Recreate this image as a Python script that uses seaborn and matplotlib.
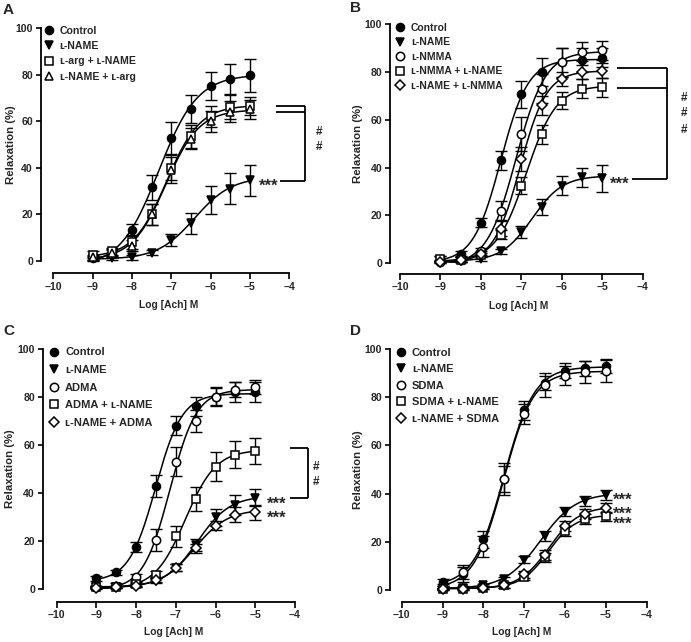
import numpy as np
import pandas as pd
import matplotlib
matplotlib.use("Agg")
import matplotlib.pyplot as plt
import seaborn as sns
from matplotlib.lines import Line2D

# ---------------- data ----------------
log_ach = [-9, -8.5, -8, -7.5, -7, -6.5, -6, -5.5, -5]

# Panel A
a_labels = ["Control", "ʟ-NAME", "ʟ-arg + ʟ-NAME", "ʟ-NAME + ʟ-arg"]
a_control = [1, 3, 13.3, 31.5, 52.7, 65, 75, 78, 79.6]
a_control_err = [1, 1.5, 2.5, 5.5, 7, 6, 6, 6.5, 7]
a_lname = [1, 1, 1.5, 3.5, 9, 16, 26, 31, 34.5]
a_lname_err = [0.5, 0.5, 1, 1, 2.5, 4.5, 6, 6.5, 6.5]
a_larg_lname = [2.5, 4, 8, 20, 40, 53.5, 62, 66, 66.5]
a_larg_lname_err = [1.5, 1.5, 3, 4.5, 5.5, 5, 4.5, 5, 4]
a_lname_larg = [1.5, 3.5, 6.5, 20, 39, 52.5, 60, 64, 65]
a_lname_larg_err = [1, 1.5, 2.5, 4.5, 5.5, 4.5, 4.5, 4.5, 4]

# Panel B
b_labels = ["Control", "ʟ-NAME", "ʟ-NMMA", "ʟ-NMMA + ʟ-NAME", "ʟ-NAME + ʟ-NMMA"]
b_control = [2, 4, 17, 43, 70.6, 80, 84, 85, 86]
b_control_err = [1, 1, 2, 4, 5.5, 6, 6, 5, 4]
b_lname = [1, 1, 2, 5, 13, 23.5, 32.5, 36, 35.5]
b_lname_err = [0.5, 0.5, 1, 1, 2.5, 3.5, 4, 4, 5.5]
b_lnmma = [0.5, 1.5, 5, 22, 54, 73, 84, 88.5, 89]
b_lnmma_err = [0.5, 1, 1.5, 4, 7, 6, 6, 4, 4]
b_lnmma_lname = [2, 1.5, 3.5, 12, 32.5, 54, 68, 73, 73.5]
b_lnmma_lname_err = [1, 1, 1, 2, 3.5, 4, 3.5, 4, 4]
b_lname_lnmma = [0.5, 1.5, 4, 14.5, 43.5, 66, 77, 80, 80.5]
b_lname_lnmma_err = [0.5, 1, 1, 3, 5, 4, 3, 3, 3]

# Panel C
c_labels = ["Control", "ʟ-NAME", "ADMA", "ADMA + ʟ-NAME", "ʟ-NAME + ADMA"]
c_control = [4.5, 7, 17.5, 43, 68, 76, 80, 82, 82]
c_control_err = [1, 1, 2, 4.5, 4, 4, 4, 4, 4]
c_lname = [1, 1, 2, 3.5, 9, 18.5, 30, 35, 38]
c_lname_err = [0.5, 0.5, 0.5, 1, 1.5, 2.5, 3.5, 4, 3.5]
c_adma = [1, 1.5, 5, 20.5, 53, 70, 80, 83, 84]
c_adma_err = [0.5, 1, 1.5, 4.5, 6, 4.5, 3.5, 3, 3]
c_adma_lname = [1, 1, 2, 6, 22, 37.5, 51, 56, 57.5]
c_adma_lname_err = [0.5, 0.5, 1, 1.5, 4.5, 5, 6, 5.5, 5.5]
c_lname_adma = [0.5, 1, 1.5, 4, 9, 17, 26.5, 31, 32]
c_lname_adma_err = [0.5, 0.5, 0.5, 1, 1.5, 2, 2, 3, 3]

# Panel D
d_labels = ["Control", "ʟ-NAME", "SDMA", "SDMA + ʟ-NAME", "ʟ-NAME + SDMA"]
d_control = [3.5, 6.5, 21, 46, 74.5, 86, 91, 92, 93]
d_control_err = [1, 3, 3.5, 5.5, 4, 3, 3, 3, 3]
d_lname = [1, 1, 2, 4.5, 12.5, 22.5, 32.5, 37, 39.5]
d_lname_err = [0.5, 0.5, 0.5, 1, 1.5, 2, 2, 2, 2]
d_sdma = [1, 7.5, 18, 46, 73, 85, 89, 90.5, 91]
d_sdma_err = [0.5, 3, 4.5, 6.5, 4, 5, 4, 4.5, 4.5]
d_sdma_lname = [0.5, 0.5, 1, 2, 5.5, 13.5, 24.5, 29.5, 30.5]
d_sdma_lname_err = [0.5, 0.5, 0.5, 1, 1.5, 2, 2, 2, 2]
d_lname_sdma = [0.5, 0.5, 1, 2, 6.5, 14.5, 26.5, 31.5, 34]
d_lname_sdma_err = [0.5, 0.5, 0.5, 1, 1.5, 2, 2, 2, 2]

x_ticks = [-10, -9, -8, -7, -6, -5, -4]
y_ticks = [0, 20, 40, 60, 80, 100]


# ---------------- helpers ----------------
def fit_sigmoid(x, y):
    """Least-squares 4-parameter logistic fit (grid over EC50/Hill, linear for bottom/top)."""
    x = np.asarray(x, float)
    y = np.asarray(y, float)
    ec = np.arange(-9.5, -4.5, 0.005)
    hh = np.arange(0.4, 2.6, 0.01)
    E, H = np.meshgrid(ec, hh, indexing="ij")
    s = 1.0 / (1.0 + 10 ** ((E[..., None] - x) * H[..., None]))
    u = 1 - s
    Suu = (u * u).sum(-1); Sss = (s * s).sum(-1); Sus = (u * s).sum(-1)
    Suy = (u * y).sum(-1); Ssy = (s * y).sum(-1)
    with np.errstate(all="ignore"):
        det = Suu * Sss - Sus ** 2
        b = (Suy * Sss - Ssy * Sus) / det
        t = (Ssy * Suu - Suy * Sus) / det
        res = ((b[..., None] * u + t[..., None] * s - y) ** 2).sum(-1)
    res[~np.isfinite(res)] = np.inf
    i = np.unravel_index(np.argmin(res), res.shape)
    return b[i], t[i], E[i], H[i]


STYLES = {
    "filled_circle": dict(marker="o", mfc="black", ms=5.8),
    "filled_tri": dict(marker="v", mfc="black", ms=6.2),
    "open_square": dict(marker="s", mfc="white", ms=6.2),
    "open_tri": dict(marker="^", mfc="white", ms=6.4),
    "open_circle": dict(marker="o", mfc="white", ms=6.0),
    "open_diamond": dict(marker="D", mfc="white", ms=4.6),
}


def draw_panel(ax, series, labels, styles, legend_cfg):
    xs = np.linspace(-9, -5, 300)
    for vals, errs, st in zip(series[0::2], series[1::2], styles):
        b, t, ec, h = fit_sigmoid(log_ach, vals)
        yc = b + (t - b) / (1 + 10 ** ((ec - xs) * h))
        sns.lineplot(x=xs, y=yc, ax=ax, color="black", lw=1.1, zorder=2,
                     legend=False, sort=False, estimator=None)
    for k, (vals, errs, st) in enumerate(zip(series[0::2], series[1::2], styles)):
        ax.errorbar(log_ach, vals, yerr=errs, fmt="none", ecolor="black",
                    elinewidth=1.0, capsize=4.2, capthick=1.0, zorder=3, clip_on=False)
        s = STYLES[st]
        ax.plot(log_ach, vals, ls="none", marker=s["marker"], mfc=s["mfc"],
                mec="black", mew=1.1, ms=s["ms"], zorder=4 + k * 0.01, clip_on=False)
    handles = []
    for st in styles:
        s = STYLES[st]
        handles.append(Line2D([], [], ls="none", marker=s["marker"], mfc=s["mfc"],
                              mec="black", mew=1.1, ms=s["ms"]))
    ax.legend(handles, labels, loc="upper left", bbox_to_anchor=legend_cfg["anchor"],
              frameon=False, handlelength=1.0, handletextpad=legend_cfg["pad"],
              borderpad=0, borderaxespad=0, labelspacing=legend_cfg["spacing"],
              prop=dict(family="Liberation Sans", weight="bold", size=legend_cfg["size"]))


def style_axes(ax, left_off, bottom_off):
    ax.set_xlim(-10, -4)
    ax.set_ylim(0, 100)
    ax.set_xticks(x_ticks)
    ax.set_yticks(y_ticks)
    ax.set_xticklabels(["\u2013" + str(abs(v)) for v in x_ticks])
    for s in ["top", "right"]:
        ax.spines[s].set_visible(False)
    ax.spines["left"].set_position(("outward", left_off))
    ax.spines["bottom"].set_position(("outward", bottom_off))
    for s in ["left", "bottom"]:
        ax.spines[s].set_linewidth(1.3)
    ax.tick_params(axis="both", width=1.2, color="black", labelsize=7.6, pad=2)
    ax.tick_params(axis="y", length=3.5)
    ax.tick_params(axis="x", length=4)
    for lab in ax.get_xticklabels() + ax.get_yticklabels():
        lab.set_fontweight("bold")
        lab.set_family("Liberation Sans")
    ax.set_xlabel("Log [Ach] M", fontsize=7.4, fontweight="bold", family="Liberation Sans")
    ax.set_ylabel("Relaxation (%)", fontsize=8.2, fontweight="bold", family="Liberation Sans")
    ax.set_facecolor("white")


sns.set_theme(style="ticks")
plt.rcParams["font.family"] = ["Liberation Sans", "DejaVu Sans"]
plt.rcParams["axes.edgecolor"] = "black"

W, Hh = 691, 642
fig = plt.figure(figsize=(W / 100, Hh / 100), dpi=100)
fig.patch.set_facecolor("white")


def axes_px(left, right, top, bottom):
    return fig.add_axes([left / W, 1 - bottom / Hh, (right - left) / W, (bottom - top) / Hh])


axA = axes_px(53.3, 289.3, 28, 260.7)
axB = axes_px(400, 642.7, 24, 263.3)
axC = axes_px(56.7, 295, 348.7, 589.3)
axD = axes_px(401.7, 646.7, 349, 590)

pt = 0.72
style_axes(axA, (53.3 - 40.7) * pt, (273.3 - 260.7) * pt)
style_axes(axB, (400 - 390) * pt, (274 - 263.3) * pt)
style_axes(axC, (56.7 - 42.7) * pt, (601.7 - 589.3) * pt)
style_axes(axD, (401.7 - 390) * pt, (601.7 - 590) * pt)

draw_panel(axA,
           [a_control, a_control_err, a_lname, a_lname_err,
            a_larg_lname, a_larg_lname_err, a_lname_larg, a_lname_larg_err],
           a_labels, ["filled_circle", "filled_tri", "open_square", "open_tri"],
           dict(anchor=(-0.042, 1.01), pad=0.55, spacing=0.5, size=7.6))
draw_panel(axB,
           [b_control, b_control_err, b_lname, b_lname_err, b_lnmma, b_lnmma_err,
            b_lnmma_lname, b_lnmma_lname_err, b_lname_lnmma, b_lname_lnmma_err],
           b_labels, ["filled_circle", "filled_tri", "open_circle", "open_square", "open_diamond"],
           dict(anchor=(-0.02, 1.004), pad=0.5, spacing=0.42, size=7.5))
draw_panel(axC,
           [c_control, c_control_err, c_lname, c_lname_err, c_adma, c_adma_err,
            c_adma_lname, c_adma_lname_err, c_lname_adma, c_lname_adma_err],
           c_labels, ["filled_circle", "filled_tri", "open_circle", "open_square", "open_diamond"],
           dict(anchor=(-0.035, 1.005), pad=0.5, spacing=0.68, size=8.0))
draw_panel(axD,
           [d_control, d_control_err, d_lname, d_lname_err, d_sdma, d_sdma_err,
            d_sdma_lname, d_sdma_lname_err, d_lname_sdma, d_lname_sdma_err],
           d_labels, ["filled_circle", "filled_tri", "open_circle", "open_square", "open_diamond"],
           dict(anchor=(-0.027, 1.005), pad=0.5, spacing=0.58, size=8.0))

# label positions (x: right edge of rotated y label; y: top of x label)
for ax, (lx, ly) in [(axA, (-0.16, -0.169)), (axB, (-0.152, -0.158)),
                     (axC, (-0.173, -0.155)), (axD, (-0.158, -0.152))]:
    ax.yaxis.set_label_coords(lx, 0.5)
    ax.xaxis.set_label_coords(0.49, ly)

# ---------------- annotations ----------------
star_kw = dict(fontsize=12, fontweight="bold", family="Liberation Sans",
               ha="center", va="baseline", annotation_clip=False,
               textcoords="offset points", xytext=(0, -7.2))
hash_kw = dict(fontsize=8.5, fontweight="bold", family="Liberation Sans",
               ha="center", va="center", clip_on=False)
line_kw = dict(color="black", lw=1.3, clip_on=False, solid_capstyle="butt")


def stars(ax, x, y):
    ax.annotate("***", xy=(x, y), **star_kw)


# Panel A
stars(axA, -4.53, 34.3)
axA.plot([-4.33, -3.59], [66.5, 66.5], **line_kw)
axA.plot([-4.33, -3.59], [64.1, 64.1], **line_kw)
axA.plot([-3.59, -3.59], [66.5, 34.3], **line_kw)
axA.plot([-4.23, -3.59], [34.3, 34.3], **line_kw)
axA.text(-3.24, 55.2, "#", **hash_kw)
axA.text(-3.24, 49.0, "#", **hash_kw)

# Panel B
stars(axB, -4.58, 35.2)
axB.plot([-4.63, -3.39], [81.5, 81.5], **line_kw)
axB.plot([-4.63, -3.39], [73.4, 73.4], **line_kw)
axB.plot([-3.39, -3.39], [81.5, 35.2], **line_kw)
axB.plot([-4.27, -3.39], [35.2, 35.2], **line_kw)
for yy in [69.2, 62.7, 55.7]:
    axB.text(-2.98, yy, "#", **hash_kw)

# Panel C
stars(axC, -4.46, 37.7)
stars(axC, -4.46, 31.8)
axC.plot([-4.12, -3.68], [58.6, 58.6], **line_kw)
axC.plot([-3.68, -3.68], [58.6, 37.8], **line_kw)
axC.plot([-4.12, -3.68], [37.8, 37.8], **line_kw)
axC.text(-3.48, 50.7, "#", **hash_kw)
axC.text(-3.48, 44.7, "#", **hash_kw)

# Panel D
for yy in [39.7, 33.7, 29.6]:
    stars(axD, -4.59, yy)

# panel letters
for lab, (px, py) in zip("ABCD", [(3, 10), (350, 8), (3, 331), (350, 331)]):
    fig.text(px / W, 1 - py / Hh, lab, fontsize=11, fontweight="bold",
             family="Liberation Sans", ha="left", va="center")

fig.savefig("out.png", dpi=100, facecolor="white")
